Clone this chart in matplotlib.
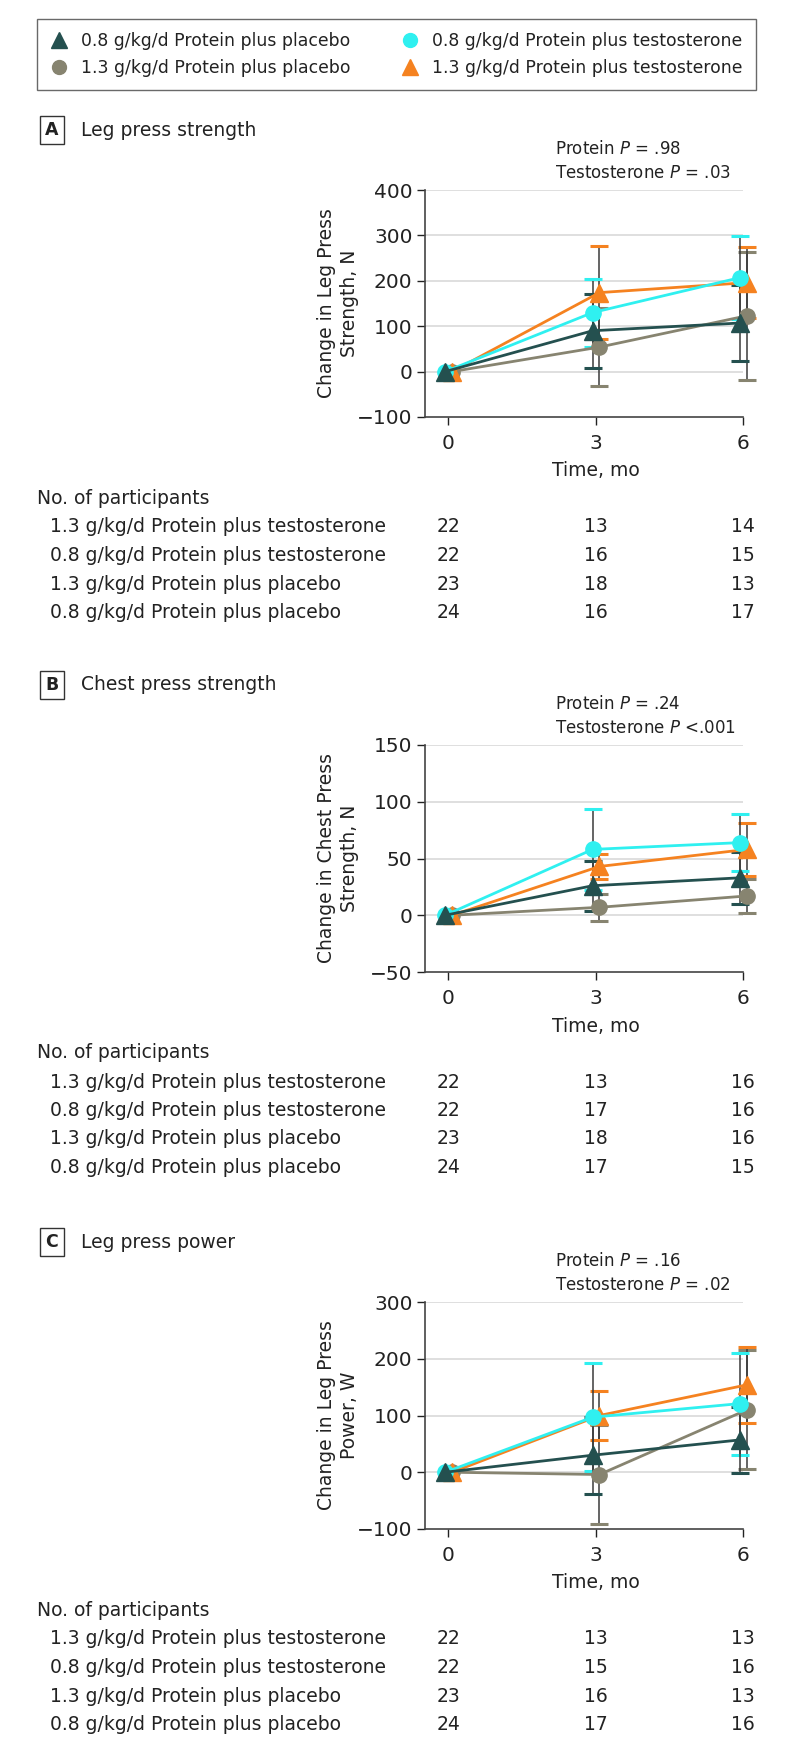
#!/usr/bin/env python3

from __future__ import annotations

import matplotlib

matplotlib.use("Agg")
import matplotlib.pyplot as plt
from matplotlib.lines import Line2D
from matplotlib.transforms import blended_transform_factory

W, H = 794, 1755

TIMES = [0, 3, 6]
GROUPS = [
    "0.8 g/kg/d Protein plus placebo",
    "1.3 g/kg/d Protein plus placebo",
    "0.8 g/kg/d Protein plus testosterone",
    "1.3 g/kg/d Protein plus testosterone",
]
TABLE_ORDER = [
    "1.3 g/kg/d Protein plus testosterone",
    "0.8 g/kg/d Protein plus testosterone",
    "1.3 g/kg/d Protein plus placebo",
    "0.8 g/kg/d Protein plus placebo",
]

# panel A: leg press strength, N
leg_str_mean = {
    GROUPS[0]: [0, 90, 107],
    GROUPS[1]: [0, 54, 123],
    GROUPS[2]: [0, 130, 207],
    GROUPS[3]: [0, 174, 196],
}
leg_str_err = {
    GROUPS[0]: [0, 81, 83],
    GROUPS[1]: [0, 85, 141],
    GROUPS[2]: [0, 75, 91],
    GROUPS[3]: [0, 102, 78],
}
leg_str_n = [[22, 13, 14], [22, 16, 15], [23, 18, 13], [24, 16, 17]]

# panel B: chest press strength, N
chest_str_mean = {
    GROUPS[0]: [0, 26, 33],
    GROUPS[1]: [0, 7, 17],
    GROUPS[2]: [0, 58, 64],
    GROUPS[3]: [0, 43, 58],
}
chest_str_err = {
    GROUPS[0]: [0, 22, 23],
    GROUPS[1]: [0, 12, 15],
    GROUPS[2]: [0, 36, 25],
    GROUPS[3]: [0, 11, 23],
}
chest_str_n = [[22, 13, 16], [22, 17, 16], [23, 18, 16], [24, 17, 15]]

# panel C: leg press power, W
leg_pow_mean = {
    GROUPS[0]: [0, 30, 57],
    GROUPS[1]: [0, -4, 110],
    GROUPS[2]: [0, 97, 121],
    GROUPS[3]: [0, 100, 154],
}
leg_pow_err = {
    GROUPS[0]: [0, 68, 58],
    GROUPS[1]: [0, 88, 105],
    GROUPS[2]: [0, 95, 90],
    GROUPS[3]: [0, 43, 67],
}
leg_pow_n = [[22, 13, 13], [22, 15, 16], [23, 16, 13], [24, 17, 16]]

STYLE = {
    GROUPS[0]: dict(color="#24504f", marker="^", ms=12.5, dx=-0.06),
    GROUPS[1]: dict(color="#878470", marker="o", ms=11, dx=0.08),
    GROUPS[2]: dict(color="#2ff0f0", marker="o", ms=11, dx=-0.06),
    GROUPS[3]: dict(color="#f58220", marker="^", ms=12.5, dx=0.08),
}
DRAW_ORDER = [GROUPS[1], GROUPS[3], GROUPS[2], GROUPS[0]]

FS = 13.5
TEXT = "#222222"


def fx(px: float) -> float:
    return px / W


def fy(py: float) -> float:
    return 1 - py / H


def draw_panel(fig, top, letter, title, p_protein, p_testo, ylabel, ylim, step, means, errs, counts):
    ax = fig.add_axes([fx(425), fy(top + 227), 318 / W, 227 / H])

    for g in DRAW_ORDER:
        st = STYLE[g]
        xs = [t + st["dx"] for t in TIMES]
        _, caps, bars = ax.errorbar(
            xs[1:], means[g][1:], yerr=errs[g][1:], fmt="none",
            ecolor="#3a3a3a", elinewidth=1.1, capsize=6.5, capthick=2.2, zorder=2,
        )
        for c in caps:
            c.set_color(st["color"])
            c.set_markeredgecolor(st["color"])
            c.set_clip_on(False)
        for b in bars:
            b.set_clip_on(False)
    for g in DRAW_ORDER:
        st = STYLE[g]
        xs = [t + st["dx"] for t in TIMES]
        ax.plot(xs, means[g], color=st["color"], lw=2, marker=st["marker"], ms=st["ms"],
                zorder=3, clip_on=False)

    ax.set_xlim(-0.47, 6.0)
    ax.set_ylim(*ylim)
    ax.set_xticks(TIMES)
    ax.set_yticks(range(ylim[0], ylim[1] + 1, step))
    ax.tick_params(labelsize=FS + 1, colors=TEXT, length=6, width=1, pad=3)
    ax.tick_params(axis="x", pad=6)
    for s in ("top", "right"):
        ax.spines[s].set_visible(False)
    for s in ("left", "bottom"):
        ax.spines[s].set_color("#444444")
        ax.spines[s].set_linewidth(1.2)
    for yv in range(ylim[0] + step, ylim[1] + 1, step):
        ax.axhline(yv, xmin=0, xmax=1, color="#d9d9d9", lw=1.2, zorder=0)

    fig.text(fx(52), fy(top - 60), letter, fontsize=FS - 1, fontweight="bold", color=TEXT,
             ha="center", va="center",
             bbox=dict(boxstyle="square,pad=0.3", fc="white", ec="#333333", lw=1))
    fig.text(fx(81), fy(top - 60), title, fontsize=FS, color=TEXT, ha="left", va="center")
    fig.text(fx(555), fy(top - 41), f"Protein $P$ {p_protein}", fontsize=FS - 1.5, color=TEXT,
             ha="left", va="center")
    fig.text(fx(555), fy(top - 17), f"Testosterone $P$ {p_testo}", fontsize=FS - 1.5, color=TEXT,
             ha="left", va="center")
    fig.text(fx(338), fy(top + 113), ylabel, fontsize=FS, color=TEXT, rotation=90,
             ha="center", va="center", multialignment="center", linespacing=1.3)

    tr = blended_transform_factory(ax.transData, fig.transFigure)
    ax.text(3, fy(top + 281), "Time, mo", transform=tr, fontsize=FS, color=TEXT,
            ha="center", va="center")
    fig.text(fx(37), fy(top + 308), "No. of participants", fontsize=FS, color=TEXT,
             ha="left", va="center")
    for i, (name, row) in enumerate(zip(TABLE_ORDER, counts)):
        yy = fy(top + 337 + i * 28.5)
        fig.text(fx(50), yy, name, fontsize=FS, color=TEXT, ha="left", va="center")
        for t, n in zip(TIMES, row):
            ax.text(t, yy, str(n), transform=tr, fontsize=FS, color=TEXT,
                    ha="center", va="center")


def main() -> None:
    plt.rcParams["font.family"] = ["DejaVu Sans"]
    plt.rcParams["mathtext.fontset"] = "dejavusans"
    fig = plt.figure(figsize=(W / 100, H / 100), dpi=100)

    handles = [
        Line2D([], [], ls="none", marker=STYLE[g]["marker"], color=STYLE[g]["color"],
               ms=STYLE[g]["ms"] - 1, label=g)
        for g in GROUPS
    ]
    fig.legend(handles=handles, ncol=2, loc="upper left", mode="expand",
               bbox_to_anchor=(fx(37), fy(93), 719 / W, 74 / H), borderaxespad=0,
               fontsize=12.4, frameon=True, fancybox=False, edgecolor="#444444",
               handletextpad=0.8, handlelength=1.0, labelspacing=0.5, borderpad=0.78,
               columnspacing=2.0, labelcolor=TEXT)

    draw_panel(fig, 190, "A", "Leg press strength", "= .98", "= .03",
               "Change in Leg Press\nStrength, N", (-100, 400), 100,
               leg_str_mean, leg_str_err, leg_str_n)
    draw_panel(fig, 745, "B", "Chest press strength", "= .24", "<.001",
               "Change in Chest Press\nStrength, N", (-50, 150), 50,
               chest_str_mean, chest_str_err, chest_str_n)
    draw_panel(fig, 1302, "C", "Leg press power", "= .16", "= .02",
               "Change in Leg Press\nPower, W", (-100, 300), 100,
               leg_pow_mean, leg_pow_err, leg_pow_n)

    fig.savefig("out.png", dpi=100)
    plt.close(fig)


if __name__ == "__main__":
    main()
